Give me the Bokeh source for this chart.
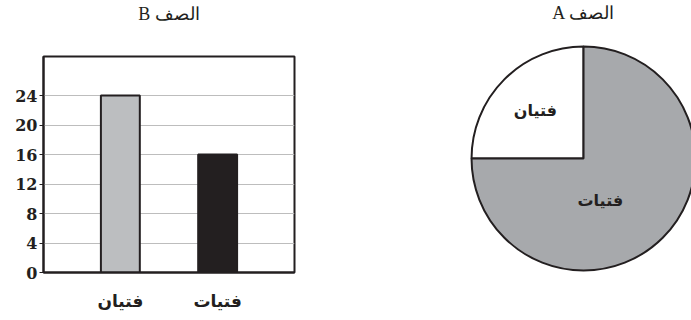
import math
from bokeh.plotting import figure
from bokeh.layouts import row
from bokeh.models import Range1d, FactorRange, FixedTicker, ColumnDataSource, Title
from bokeh.embed import file_html
from bokeh.resources import INLINE
from bokeh.core.properties import value

# ---- data ----
bar_title = "B الصف"
pie_title = "A الصف"
categories = ["فتيان", "فتيات"]
bar_values = [24, 16]
bar_colors = ["#bcbec0", "#231f20"]
y_ticks = [0, 4, 8, 12, 16, 20, 24]
pie_labels = ["فتيان", "فتيات"]
pie_values = [25, 75]
pie_colors = ["#ffffff", "#a7a9ac"]

# ---- label placement (layout, not data) ----
pie_label_x = [-0.43, 0.15]
pie_label_y = [0.43, -0.375]
pie_title_y = 1.295

# ---- bar chart ----
p1 = figure(width=340, height=320,
            x_range=FactorRange(*categories, range_padding=0.29),
            y_range=Range1d(0, 29.3),
            output_backend="svg", toolbar_location=None,
            min_border_left=43, min_border_right=46,
            min_border_top=55, min_border_bottom=48)
p1.frame_align = False

# spacer panel next to the frame, then the title above it
p1.add_layout(Title(text=" ", text_font="Liberation Serif", text_font_size="18px",
                    standoff=8), "above")
p1.add_layout(Title(text=bar_title, align="center", vertical_align="middle",
                    offset=-4, standoff=4,
                    text_font="Liberation Serif", text_font_size="18px",
                    text_font_style="normal", text_color="#231f20"), "above")

src1 = ColumnDataSource(dict(cat=categories, val=bar_values, color=bar_colors))
p1.vbar(x="cat", top="val", width=0.4, fill_color="color",
        line_color="#231f20", line_width=2, source=src1)

p1.outline_line_color = "#231f20"
p1.outline_line_width = 2
p1.xgrid.visible = False
p1.ygrid.ticker = FixedTicker(ticks=y_ticks)
p1.ygrid.grid_line_color = "#bdbdbd"
p1.ygrid.grid_line_width = 1

p1.yaxis.ticker = FixedTicker(ticks=y_ticks)
p1.yaxis.minor_tick_line_color = None
p1.yaxis.major_tick_in = 0
p1.yaxis.major_tick_out = 4
p1.yaxis.major_tick_line_color = "#231f20"
p1.yaxis.major_tick_line_width = 1
p1.yaxis.axis_line_color = "#231f20"
p1.yaxis.axis_line_width = 2
p1.yaxis.major_label_text_font = "DejaVu Serif"
p1.yaxis.major_label_text_font_style = "bold"
p1.yaxis.major_label_text_font_size = "16px"
p1.yaxis.major_label_text_color = "#231f20"
p1.yaxis.major_label_standoff = 2

p1.xaxis.major_tick_line_color = None
p1.xaxis.minor_tick_line_color = None
p1.xaxis.axis_line_color = "#231f20"
p1.xaxis.axis_line_width = 2
p1.xaxis.major_label_text_font = "DejaVu Sans"
p1.xaxis.major_label_text_font_style = "bold"
p1.xaxis.major_label_text_font_size = "17px"
p1.xaxis.major_label_text_color = "#231f20"
p1.xaxis.major_label_standoff = 12

# ---- pie chart ----
p2 = figure(width=351, height=320,
            x_range=Range1d(-2.170, 0.964), y_range=Range1d(-1.446, 1.411),
            output_backend="svg", toolbar_location=None,
            min_border_left=0, min_border_right=0,
            min_border_top=0, min_border_bottom=0)
p2.frame_align = False

total = sum(pie_values)
starts, ends = [], []
acc = math.pi / 2
for v in pie_values:
    starts.append(acc)
    acc += v / total * 2 * math.pi
    ends.append(acc)
src2 = ColumnDataSource(dict(start=starts, end=ends, color=pie_colors,
                             label=pie_labels, lx=pie_label_x, ly=pie_label_y))
p2.wedge(x=0, y=0, radius=1, start_angle="start", end_angle="end",
         fill_color="color", line_color="#231f20", line_width=2, source=src2)
p2.text(x="lx", y="ly", text="label", source=src2,
        text_align="center", text_baseline="middle",
        text_font=value("DejaVu Sans"), text_font_style="bold",
        text_font_size="16px", text_color="#231f20")
p2.text(x=[0], y=[pie_title_y], text=[pie_title],
        text_align="center", text_baseline="middle",
        text_font=value("Liberation Serif"), text_font_style="normal",
        text_font_size="18px", text_color="#231f20")
p2.axis.visible = False
p2.grid.visible = False
p2.outline_line_color = None

layout = row(p1, p2)
open("out.html", "w").write(file_html(layout, INLINE))
